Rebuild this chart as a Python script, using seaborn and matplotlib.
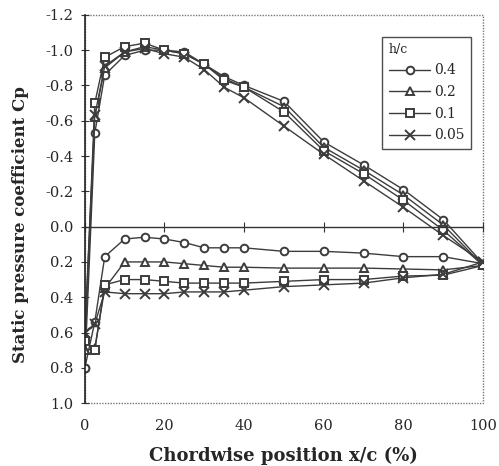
import numpy as np
import pandas as pd
import matplotlib
matplotlib.use("Agg")
import matplotlib.pyplot as plt
import matplotlib.patches as mpatches
import seaborn as sns

x_pos = [0, 2.5, 5, 10, 15, 20, 25, 30, 35, 40, 50, 60, 70, 80, 90, 100]
hc_labels = ["0.4", "0.2", "0.1", "0.05"]

upper_04 = [0.80, -0.53, -0.86, -0.97, -1.00, -1.00, -0.99, -0.92, -0.85, -0.80, -0.71, -0.48, -0.35, -0.21, -0.04, 0.21]
upper_02 = [0.70, -0.62, -0.90, -0.99, -1.02, -1.00, -0.98, -0.92, -0.84, -0.79, -0.68, -0.45, -0.32, -0.18, -0.01, 0.22]
upper_01 = [0.65, -0.70, -0.96, -1.02, -1.04, -1.00, -0.98, -0.92, -0.83, -0.79, -0.65, -0.43, -0.30, -0.15, 0.02, 0.22]
upper_005 = [0.60, -0.63, -0.91, -0.99, -1.01, -0.98, -0.96, -0.89, -0.79, -0.73, -0.57, -0.41, -0.26, -0.11, 0.05, 0.20]

lower_04 = [0.80, 0.54, 0.17, 0.07, 0.06, 0.07, 0.09, 0.12, 0.12, 0.12, 0.14, 0.14, 0.15, 0.17, 0.17, 0.21]
lower_02 = [0.70, 0.69, 0.35, 0.20, 0.20, 0.20, 0.21, 0.22, 0.23, 0.23, 0.235, 0.235, 0.235, 0.24, 0.245, 0.22]
lower_01 = [0.65, 0.70, 0.33, 0.30, 0.30, 0.31, 0.32, 0.32, 0.32, 0.32, 0.31, 0.30, 0.30, 0.28, 0.275, 0.22]
lower_005 = [0.60, 0.55, 0.37, 0.38, 0.38, 0.38, 0.37, 0.37, 0.37, 0.36, 0.34, 0.33, 0.32, 0.29, 0.27, 0.20]

y_ticks = [-1.2, -1.0, -0.8, -0.6, -0.4, -0.2, 0.0, 0.2, 0.4, 0.6, 0.8, 1.0]
y_tick_labels = ["-1.2", "-1.0", "-0.8", "-0.6", "-0.4", "-0.2", "0.0", "0.2", "0.4", "0.6", "0.8", "1.0"]
x_ticks = [0, 20, 40, 60, 80, 100]

upper = [upper_04, upper_02, upper_01, upper_005]
lower = [lower_04, lower_02, lower_01, lower_005]
markers = ["o", "^", "s", "x"]

sns.set_style("white")
plt.rcParams["font.family"] = ["DejaVu Serif"]

fig = plt.figure(figsize=(4.99, 4.66), dpi=100)
ax = fig.add_axes([0.170, 0.135, 0.798, 0.833])

dark = "#3c3c3c"
for lab, up, lo, mk in zip(hc_labels, upper, lower, markers):
    for i, yy in enumerate([up, lo]):
        df = pd.DataFrame({"x": x_pos, "cp": yy})
        kw = dict(marker=mk, color=dark, linewidth=1.0, markersize=5.5 if mk != "x" else 6.5,
                  markeredgecolor=dark, markeredgewidth=1.4,
                  markerfacecolor="white", sort=False)
        sns.lineplot(data=df, x="x", y="cp", ax=ax, label=(lab if i == 0 else None), **kw)

ax.set_xlim(0, 100)
ax.set_ylim(1.0, -1.2)
ax.set_yticks(y_ticks)
ax.set_yticklabels(y_tick_labels)
ax.set_xticks(x_ticks)
ax.set_xticklabels([str(v) for v in x_ticks])

for s in ["bottom", "right"]:
    ax.spines[s].set_visible(False)
ax.spines["left"].set_color("#222222")
ax.spines["left"].set_linewidth(1.2)
ax.spines["top"].set_position(("data", 0))
ax.spines["top"].set_color("#333333")
ax.spines["top"].set_linewidth(1.0)

frame = mpatches.Rectangle((0, 0), 1, 1, transform=ax.transAxes, fill=False,
                           linestyle=(0, (1, 1)), edgecolor="#777777", linewidth=1.0,
                           zorder=0.5, clip_on=False)
ax.add_patch(frame)

ax.tick_params(axis="x", bottom=False, top=True, labelbottom=True, labeltop=False,
               direction="inout", length=7, width=0.8, color="#333333",
               labelsize=10.5, pad=8)
ax.tick_params(axis="y", left=True, direction="inout", length=6, width=0.8,
               color="#333333", labelsize=10.5, pad=5)

ax.set_xlabel("Chordwise position x/c (%)", fontsize=13, fontweight="bold", labelpad=10)
ax.set_ylabel("Static pressure coefficient Cp", fontsize=12, fontweight="bold")
ax.yaxis.set_label_coords(-0.14, 0.46)

leg = ax.legend(title="h/c", loc="upper left", bbox_to_anchor=(0.73, 0.962),
                frameon=True, fancybox=False, edgecolor="#222222", fontsize=10,
                title_fontsize=9, handlelength=3.0, labelspacing=0.55,
                borderpad=0.45, handletextpad=0.3)
leg.get_frame().set_linewidth(1.0)
leg._legend_box.align = "left"

fig.savefig("out.png", dpi=100, facecolor="white")
